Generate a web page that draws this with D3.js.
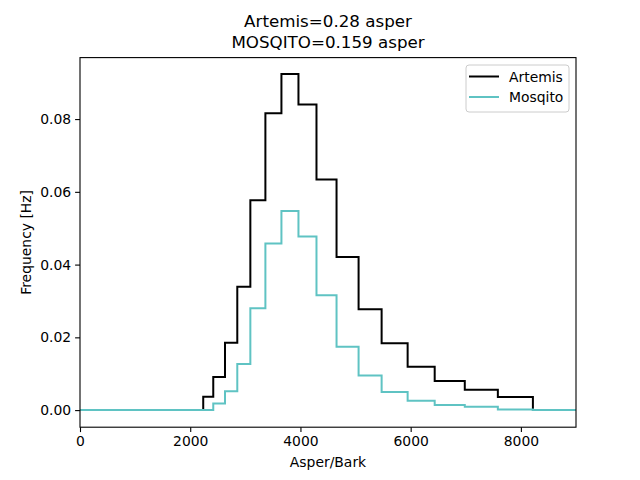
<!DOCTYPE html>
<html><head><meta charset="utf-8">
<script src="https://cdn.jsdelivr.net/npm/d3@7/dist/d3.min.js"></script>
<style>body{margin:0;background:#fff}svg{display:block}text{font-family:"DejaVu Sans",sans-serif;fill:#000}</style>
</head><body><svg id="c" width="640" height="480"></svg>
<script>
const binEdges = [2236, 2418, 2631, 2854, 3091, 3364, 3655, 3964, 4291, 4655, 5055, 5473, 5945, 6436, 6982, 7582, 8218];
const artemis = [0.0037, 0.0091, 0.0185, 0.0339, 0.0577, 0.0816, 0.0924, 0.0840, 0.0634, 0.0421, 0.0277, 0.0184, 0.0119, 0.0080, 0.0056, 0.0036];
const mosqito = [0.0000, 0.0018, 0.0052, 0.0127, 0.0280, 0.0458, 0.0547, 0.0477, 0.0316, 0.0174, 0.0095, 0.0050, 0.0026, 0.0014, 0.0009, 0.0002];
const xTicks = [0, 2000, 4000, 6000, 8000];
const yTicks = [0, 0.02, 0.04, 0.06, 0.08];
const xMin = 0, xMax = 9000;
const titleLines = ["Artemis=0.28 asper", "MOSQITO=0.159 asper"];
const seriesNames = ["Artemis", "Mosqito"];
const colors = ["#000000", "#5fc3c3"];

const svg = d3.select("#c");
const L = 80, R = 576, T = 57.6, B = 427.2;
const x = d3.scaleLinear().domain([xMin, xMax]).range([L, R]);
const y = d3.scaleLinear().domain([-0.0047, 0.0969]).range([B, T]);

function pts(vals) {
  const p = [[xMin, 0]];
  vals.forEach((v, i) => p.push([binEdges[i], v]));
  p.push([binEdges[binEdges.length - 1], 0]);
  p.push([xMax, 0]);
  return p;
}
const line = d3.line().x(d => x(d[0])).y(d => y(d[1])).curve(d3.curveStepAfter);
[artemis, mosqito].forEach((s, i) => {
  svg.append("path").attr("d", line(pts(s))).attr("fill", "none")
    .attr("stroke", colors[i]).attr("stroke-width", 2);
});

const xa = svg.append("g").attr("transform", `translate(0,${B})`)
  .call(d3.axisBottom(x).tickValues(xTicks).tickFormat(d3.format("d")).tickSizeOuter(0).tickSize(4.9).tickPadding(4));
const ya = svg.append("g").attr("transform", `translate(${L},0)`)
  .call(d3.axisLeft(y).tickValues(yTicks).tickFormat(d3.format(".2f")).tickSizeOuter(0).tickSize(4.9).tickPadding(4));
[xa, ya].forEach(a => {
  a.select(".domain").remove();
  a.selectAll("text").style("font-size", "13.9px").style("font-family", "DejaVu Sans");
  a.selectAll("line").attr("stroke", "#000").attr("stroke-width", 1.1);
});
svg.append("rect").attr("x", L).attr("y", T).attr("width", R - L).attr("height", B - T)
  .attr("fill", "none").attr("stroke", "#000").attr("stroke-width", 1.1);

svg.append("text").attr("x", (L + R) / 2).attr("y", 27).attr("text-anchor", "middle").style("font-size", "16.7px").text(titleLines[0]);
svg.append("text").attr("x", (L + R) / 2).attr("y", 48).attr("text-anchor", "middle").style("font-size", "16.7px").text(titleLines[1]);
svg.append("text").attr("x", (L + R) / 2).attr("y", 467).attr("text-anchor", "middle").style("font-size", "13.9px").text("Asper/Bark");
svg.append("text").attr("transform", `translate(31,${(T + B) / 2}) rotate(-90)`).attr("text-anchor", "middle").style("font-size", "13.9px").text("Frequency [Hz]");

const lg = svg.append("g");
lg.append("rect").attr("x", 466).attr("y", 65).attr("width", 103).attr("height", 47).attr("rx", 3)
  .attr("fill", "#fff").attr("fill-opacity", 0.8).attr("stroke", "#ccc").attr("stroke-width", 1);
seriesNames.forEach((n, i) => {
  const yy = 76.5 + i * 20.5;
  lg.append("line").attr("x1", 469).attr("x2", 499).attr("y1", yy).attr("y2", yy).attr("stroke", colors[i]).attr("stroke-width", 2);
  lg.append("text").attr("x", 509).attr("y", yy + 5).style("font-size", "13.9px").text(n);
});
</script></body></html>
